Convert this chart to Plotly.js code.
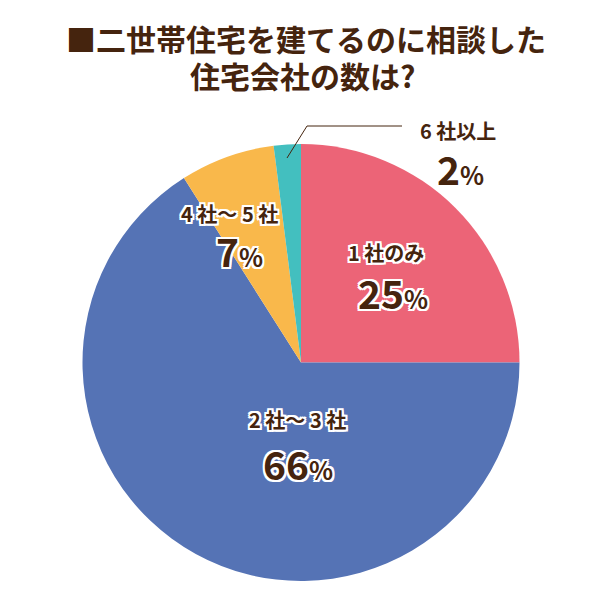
<!DOCTYPE html>
<html>
<head>
<meta charset="utf-8">
<script src="https://cdn.plot.ly/plotly-3.0.1.min.js"></script>
<style>
  html, body { margin: 0; padding: 0; background: #fff; }
  #graph { width: 601px; height: 607px; }
</style>
</head>
<body>
<div id="graph"></div>
<script>
// chart data
var labels = ['1 社のみ', '2 社〜 3 社', '4 社〜 5 社', '6 社以上'];
var values = [25, 66, 7, 2];
var colors = ['#EC6477', '#5573B5', '#F9B84B', '#43BFBF'];
var titleLines = ['■二世帯住宅を建てるのに相談した', '住宅会社の数は?'];

var W = 601, H = 607;
var brown = '#45240E';
var font = '"Noto Sans CJK JP", "Noto Sans", sans-serif';
var outline = '2px 0 #fff, -2px 0 #fff, 0 2px #fff, 0 -2px #fff, ' +
  '2px 2px #fff, -2px -2px #fff, 2px -2px #fff, -2px 2px #fff';

// pixel -> paper coords
function px(x) { return x / W; }
function py(y) { return 1 - y / H; }

// where each label sits (pixels): name line, then percent line
var labelPos = [
  [386, 252, 393, 292],
  [297, 419, 298, 463],
  [229, 213, 239, 250],
  [458, 130, 460, 168]
];

var annotations = [];

// title, two lines
var titleY = [38, 75], titleX = [306, 302];
titleLines.forEach(function(t, i) {
  annotations.push({
    xref: 'paper', yref: 'paper', x: px(titleX[i]), y: py(titleY[i]),
    text: t, showarrow: false, xanchor: 'center', yanchor: 'middle',
    font: { family: font, size: 30, color: brown, weight: 'bold' }
  });
});

labels.forEach(function(lab, i) {
  var p = labelPos[i];
  annotations.push({
    xref: 'paper', yref: 'paper', x: px(p[0]), y: py(p[1]),
    text: lab, showarrow: false, xanchor: 'center', yanchor: 'middle',
    font: { family: font, size: 20, color: brown, weight: 'bold', shadow: outline }
  });
  annotations.push({
    xref: 'paper', yref: 'paper', x: px(p[2]), y: py(p[3]),
    text: values[i] + '<span style="font-size:25px">%</span>',
    showarrow: false, xanchor: 'center', yanchor: 'middle',
    font: { family: font, size: 39, color: brown, weight: 'bold', shadow: outline }
  });
});

var trace = {
  type: 'pie',
  labels: labels,
  values: values,
  sort: false,
  direction: 'clockwise',
  rotation: 0,
  textinfo: 'none',
  hoverinfo: 'none',
  marker: { colors: colors, line: { width: 0 } },
  domain: { x: [px(301 - 218.5), px(301 + 218.5)], y: [py(581), py(144)] }
};

var layout = {
  width: W,
  height: H,
  margin: { l: 0, r: 0, t: 0, b: 0 },
  showlegend: false,
  paper_bgcolor: '#fff',
  shapes: [{
    type: 'path', xref: 'paper', yref: 'paper',
    path: 'M ' + px(287) + ',' + py(158) + ' L ' + px(307) + ',' + py(126) +
      ' L ' + px(402) + ',' + py(126),
    line: { color: brown, width: 1 }
  }],
  annotations: annotations
};

Plotly.newPlot('graph', [trace], layout, { staticPlot: true });
</script>
</body>
</html>
